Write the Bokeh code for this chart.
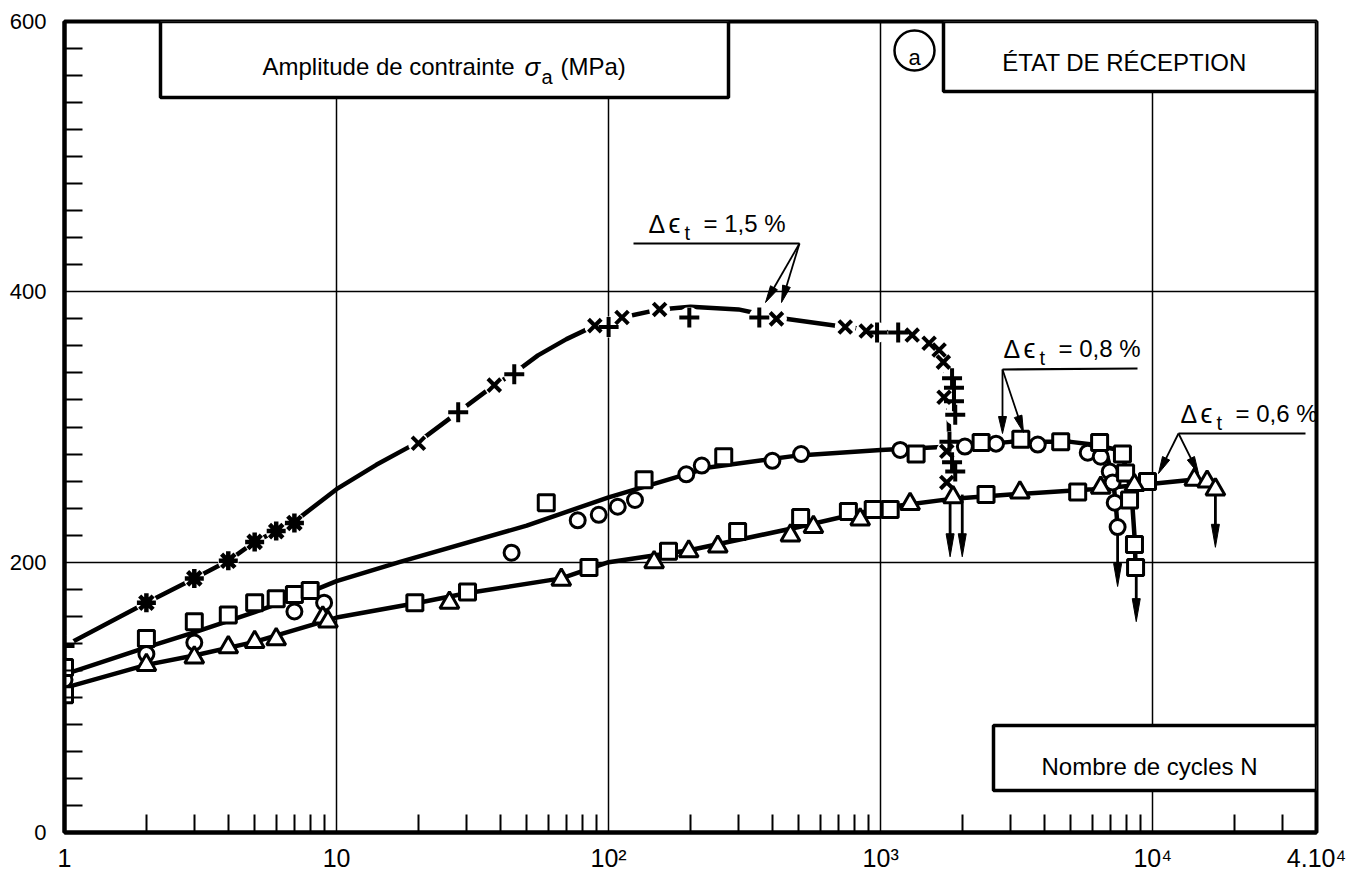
import numpy as np
from bokeh.plotting import figure
from bokeh.models import FixedTicker, BoxAnnotation, Label, Range1d
from bokeh.embed import file_html
from bokeh.resources import INLINE

# ---------------- axes / ticks ----------------
x_major = [1, 10, 100, 1000, 10000, 40000]
x_major_labels = ["1", "10", "10²", "10³", "10⁴", "4.10⁴"]
x_minor = [2, 3, 4, 5, 6, 7, 8, 9,
           20, 30, 40, 50, 60, 70, 80, 90,
           200, 300, 400, 500, 600, 700, 800, 900,
           2000, 3000, 4000, 5000, 6000, 7000, 8000, 9000,
           20000, 30000]
x_grid = [10, 100, 1000, 10000]
y_major = [0, 200, 400, 600]
y_minor = [20, 40, 60, 80, 100, 120, 140, 160, 180,
           220, 240, 260, 280, 300, 320, 340, 360, 380,
           420, 440, 460, 480, 500, 520, 540, 560, 580]
y_grid = [200, 400]

# ---------------- data : delta eps = 1.5 % ----------------
ast15_N = [2, 3, 4, 5, 6, 7]
ast15_s = [170, 188, 201, 215, 223, 229]
x15_N = [20, 38, 89, 112, 154, 414, 741, 885, 1306, 1507, 1640, 1700, 1710, 1750, 1750]
x15_s = [288, 331, 375, 381, 387, 380, 374, 371, 368, 362, 357, 348, 322, 282, 259]
p15_N = [1, 28, 45, 100, 198, 358, 970, 1160, 1830, 1860, 1860, 1880, 1790, 1830, 1880]
p15_s = [138, 311, 339, 374, 381, 381, 370, 370, 336, 329, 319, 309, 289, 274, 267]
curve15_N = [1, 2, 3, 4, 5, 6, 7, 10, 14, 20, 28, 38, 45, 55, 70, 89, 112, 154, 200,
             300, 414, 741, 1000, 1300, 1500, 1640, 1720, 1760, 1780, 1790, 1800]
curve15_s = [138, 170, 188, 201, 215, 223, 230, 254, 272, 289, 311, 331, 340, 353,
             365, 375, 381, 387, 389, 387, 381, 374, 371, 367, 362, 356, 345, 330,
             305, 280, 255]

# ---------------- data : delta eps = 0.8 % ----------------
c08_N = [1, 2, 3, 7, 9, 44, 77, 92, 108, 125, 193, 220, 400, 510, 1180, 2040, 2655,
         3780, 5770, 6440, 6950, 7120, 7250, 7430]
c08_s = [113, 132, 140.5, 163.5, 170, 207, 231, 235, 241, 246, 265, 271.5, 275, 280,
         283, 285.5, 287.7, 287, 281, 278, 267, 259, 244, 226]
sq08_N = [1, 2, 3, 4, 5, 6, 7, 8, 59, 135, 265, 1350, 2340, 3275, 4590, 6380, 7740,
          7950, 8220, 8570, 8650]
sq08_s = [122, 143.5, 156, 161, 170, 173, 176, 179, 244, 261, 278, 280, 288.5, 291,
          289, 288.5, 280, 266, 246, 213, 196]
curve08_N = [1, 2, 3, 5, 8, 10, 17, 50, 100, 233, 500, 1000, 2000, 3000, 5000, 6000]
curve08_s = [117, 137, 148, 163, 178, 186, 200, 227, 248, 270, 279, 283, 286, 289, 289, 287]
curve08a_N = [6000, 6800, 7100, 7300, 7430]
curve08a_s = [287, 278, 265, 245, 226]
curve08b_N = [6000, 7500, 8000, 8400, 8600, 8650]
curve08b_s = [287, 283, 270, 245, 215, 196]

# ---------------- data : delta eps = 0.6 % ----------------
t06_N = [2, 3, 4, 5, 6, 8.9, 9.3, 26, 67, 147, 197, 252, 466, 566, 841, 1283, 1845,
         3250, 6440, 8570, 14220, 15850, 17000]
t06_s = [124, 129.5, 137, 141, 143, 159, 156, 170, 187, 200, 208, 211.5, 219.7, 226,
         231.5, 243, 248, 251.5, 255, 257, 261, 259.6, 253.7]
sq06_N = [1, 19.4, 30.3, 84.7, 166, 298, 508, 761, 939, 1084, 2440, 5300, 9570]
sq06_s = [102, 170, 178, 196, 208, 222.6, 233, 237.4, 239, 239, 250, 252, 259.6]
curve06_N = [1, 2, 3, 5, 10, 20, 30, 67, 100, 200, 500, 1000, 1850, 3000, 6000,
             10000, 14000, 17000]
curve06_s = [107, 124, 131, 141, 159, 170, 177, 188, 200, 209, 226, 240, 247, 250,
             254, 258, 261, 260]

# ---------------- failure arrows (N, from, to) ----------------
fail_N = [1800, 1995, 7430, 8700, 17000]
fail_top = [250, 250, 221, 190, 249]
fail_bot = [204, 204, 182, 156, 211]

# ---------------- layout ----------------
W_FIG, H_FIG = 1348, 874
BL, BT, BR, BB = 64, 21, 32, 42
FW = W_FIG - BL - BR
FH = H_FIG - BT - BB
PX0 = BL
PY0 = BT
XMIN, XMAX, YMIN, YMAX = 1, 40000, 0, 600
DEC = FW / np.log10(XMAX / XMIN)
PU = FH / (YMAX - YMIN)


def N_at(px):
    return 10 ** ((px - PX0) / DEC)


def s_at(py):
    return (PY0 + FH - py) / PU


p = figure(width=W_FIG, height=H_FIG, x_axis_type="log",
           x_range=Range1d(XMIN, XMAX), y_range=Range1d(YMIN, YMAX),
           min_border_left=BL, min_border_top=BT, min_border_right=BR,
           min_border_bottom=BB, output_backend="svg", toolbar_location=None,
           background_fill_color="white", border_fill_color="white")
p.outline_line_color = "black"
p.outline_line_width = 4

p.xaxis.ticker = FixedTicker(ticks=x_major, minor_ticks=x_minor)
p.xaxis.major_label_overrides = {k: v for k, v in zip(x_major, x_major_labels)}
p.yaxis.ticker = FixedTicker(ticks=y_major, minor_ticks=y_minor)
for ax in (p.xaxis[0], p.yaxis[0]):
    ax.axis_line_width = 4
    ax.axis_line_color = "black"
    ax.major_tick_in = 0
    ax.major_tick_out = 0
    ax.minor_tick_in = 18
    ax.minor_tick_out = 0
    ax.minor_tick_line_width = 2
    ax.minor_tick_line_color = "black"
    ax.major_label_text_font = "Liberation Sans"
    ax.major_label_text_color = "black"
p.xaxis.major_label_text_font_size = "25px"
p.xaxis.major_label_standoff = 11
p.yaxis.major_label_text_font_size = "22px"
p.yaxis.major_label_standoff = 18

p.xgrid.ticker = FixedTicker(ticks=x_grid)
p.ygrid.ticker = FixedTicker(ticks=y_grid)
for g in (p.xgrid[0], p.ygrid[0]):
    g.grid_line_color = "black"
    g.grid_line_width = 1.5
    g.grid_line_alpha = 1

K = "black"
LW = 4.5
# curves
for cx, cy in ((curve15_N, curve15_s), (curve08_N, curve08_s), (curve08a_N, curve08a_s),
               (curve08b_N, curve08b_s), (curve06_N, curve06_s)):
    p.line(cx, cy, line_color=K, line_width=LW, line_join="round", line_cap="round")


def arrow(N0, s0, N1, s1, L, W, lw):
    u0, v0 = np.log10(N0) * DEC, s0 * PU
    u1, v1 = np.log10(N1) * DEC, s1 * PU
    du, dv = u1 - u0, v1 - v0
    d = np.hypot(du, dv)
    eu, ev = du / d, dv / d
    bu, bv = u1 - (L - 2) * eu, v1 - (L - 2) * ev
    p.line([N0, 10 ** (bu / DEC)], [s0, bv / PU], line_color=K, line_width=lw)
    bu, bv = u1 - L * eu, v1 - L * ev
    pts = [(u1, v1), (bu - W * ev, bv + W * eu), (bu + W * ev, bv - W * eu)]
    p.patch([10 ** (u / DEC) for u, v in pts], [v / PU for u, v in pts],
            fill_color=K, line_color=K, line_width=1)


# failure arrows
for n, a, b in zip(fail_N, fail_top, fail_bot):
    arrow(n, a, n, b, 23, 4, 2.8)

# white gaps behind line-type markers of 1.5 %
gapN = ast15_N + x15_N + p15_N
gaps = ast15_s + x15_s + p15_s
p.scatter(gapN, gaps, marker="circle", size=21, fill_color="white", line_color=None)

# markers
p.scatter(ast15_N, ast15_s, marker="asterisk", size=19, line_color=K, line_width=4.5)
p.scatter(x15_N, x15_s, marker="x", size=18, line_color=K, line_width=4)
p.scatter(p15_N, p15_s, marker="cross", size=20, line_color=K, line_width=4)
p.scatter(c08_N, c08_s, marker="circle", size=15, fill_color="white", line_color=K, line_width=3)
p.scatter(sq08_N, sq08_s, marker="square", size=16, fill_color="white", line_color=K, line_width=3)
p.scatter(sq06_N, sq06_s, marker="square", size=16, fill_color="white", line_color=K, line_width=3)
p.scatter(t06_N, t06_s, marker="triangle", size=19, fill_color="white", line_color=K, line_width=3)


# ---------------- annotations (page-pixel placement) ----------------
def seg(x0, y0, x1, y1, lw=2.2):
    p.line([N_at(x0), N_at(x1)], [s_at(y0), s_at(y1)], line_color=K, line_width=lw)


def parrow(x0, y0, x1, y1):
    arrow(N_at(x0), s_at(y0), N_at(x1), s_at(y1), 17, 4, 1.8)


def lab(text, x, y, size, align="left", style="normal", font="Liberation Sans"):
    p.add_layout(Label(x=N_at(x), y=s_at(y), text=text, text_font=font,
                       text_font_size=f"{size}px", text_align=align,
                       text_baseline="alphabetic", text_font_style=style,
                       text_color=K))


def delta(xl, yb, txt):
    lab("Δ", xl, yb, 25)
    lab("ϵ", xl + 20, yb, 27)
    lab("t", xl + 36, yb + 9, 20)
    lab(txt, xl + 55, yb, 24)


# leaders
seg(633, 243, 799, 243)
parrow(799, 243, 765, 302)
parrow(799, 243, 781, 302)
seg(1002, 369, 1137, 368)
parrow(1002, 369, 1002, 433)
parrow(1002, 369, 1023, 432)
seg(1178, 433, 1305, 433)
parrow(1178, 433, 1158, 473)
parrow(1178, 433, 1198, 473)

delta(648, 223, "= 1,5 %")
delta(1003, 348, "= 0,8 %")
delta(1180, 413, "= 0,6 %")

# boxes
for l, r, t, b in ((160, 728, PY0, 97), (943, PX0 + FW, PY0, 91), (993, PX0 + FW, 725, 790)):
    p.add_layout(BoxAnnotation(left=N_at(l), right=N_at(r), top=s_at(t), bottom=s_at(b),
                               fill_color="white", fill_alpha=1, line_color=K,
                               line_width=3.5, line_alpha=1))

lab("Amplitude de contrainte", 262, 66, 24)
lab("σ", 524, 66, 26, style="italic")
lab("a", 541, 76, 20)
lab("(MPa)", 560, 66, 24)
lab("ÉTAT DE RÉCEPTION", 1124, 62, 24, align="center")
lab("Nombre de cycles N", 1149, 766, 24, align="center")

# circled "a"
p.scatter([N_at(914)], [s_at(50)], marker="circle", size=40, fill_color="white",
          line_color=K, line_width=2.5)
lab("a", 914, 57, 22, align="center")

open("out.html", "w").write(file_html(p, INLINE, title="Amplitude de contrainte"))
